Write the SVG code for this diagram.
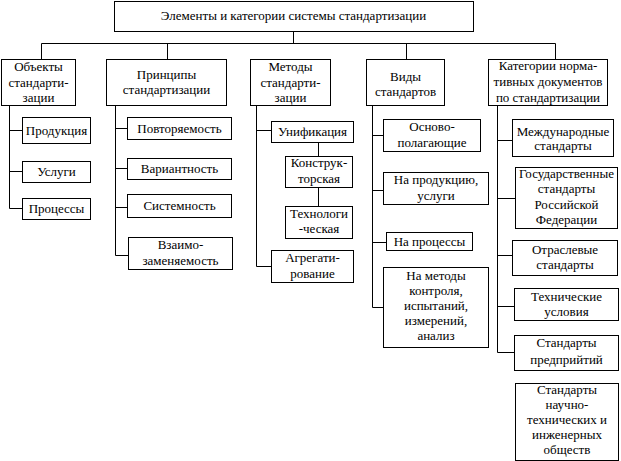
<svg xmlns="http://www.w3.org/2000/svg" width="621" height="461" viewBox="0 0 621 461">
<style>
.b{fill:#fff;stroke:#000;stroke-width:1}
.t{font-size:13px;fill:#000;text-anchor:middle}
.c{fill:none;stroke:#000;stroke-width:1}
</style>
<rect x="0" y="0" width="621" height="461" fill="#fff"/>
<g id="connectors">
<path class="c" d="M293.5 31V43.5M41.5 59V43.5H555.5V59M167.5 43.5V59M406.5 43.5V59"/>
<path class="c" d="M9.5 105V208.5H22M9.5 130.5H22M9.5 171.5H22"/>
<path class="c" d="M115.5 105V255.5H128M115.5 128.5H127M115.5 168.5H127M115.5 207.5H127"/>
<path class="c" d="M256.5 105V266.5H271M256.5 130.5H271M318.5 142V156M318.5 187V206"/>
<path class="c" d="M372.5 105V307.5H383M372.5 135.5H383M372.5 190.5H383M372.5 242.5H386"/>
<path class="c" d="M497.5 105V352.5H514M497.5 140.5H512M497.5 198.5H515M497.5 255.5H512M497.5 306.5H514"/>
</g>
<g id="root"><rect class="b" x="114.5" y="1.5" width="359" height="30"/><text class="t" font-family="Liberation Serif" x="293.5" y="20">Элементы и категории системы стандартизации</text></g>
<g id="objects"><rect class="b" x="1.5" y="59.5" width="74" height="46"/><text class="t" font-family="Liberation Serif" x="38.5" y="71">Объекты</text><text class="t" font-family="Liberation Serif" x="38.5" y="87">стандарти-</text><text class="t" font-family="Liberation Serif" x="38.5" y="102">зации</text></g>
<g id="principles"><rect class="b" x="106.5" y="59.5" width="120" height="46"/><text class="t" font-family="Liberation Serif" x="166.5" y="79">Принципы</text><text class="t" font-family="Liberation Serif" x="166.5" y="94">стандартизации</text></g>
<g id="methods"><rect class="b" x="250.5" y="59.5" width="80" height="46"/><text class="t" font-family="Liberation Serif" x="290.5" y="71">Методы</text><text class="t" font-family="Liberation Serif" x="290.5" y="87">стандарти-</text><text class="t" font-family="Liberation Serif" x="290.5" y="102">зации</text></g>
<g id="types"><rect class="b" x="366.5" y="59.5" width="78" height="46"/><text class="t" font-family="Liberation Serif" x="405.5" y="81">Виды</text><text class="t" font-family="Liberation Serif" x="405.5" y="96">стандартов</text></g>
<g id="categories"><rect class="b" x="488.5" y="59.5" width="119" height="46"/><text class="t" font-family="Liberation Serif" x="548" y="70">Категории норма-</text><text class="t" font-family="Liberation Serif" x="548" y="86">тивных документов</text><text class="t" font-family="Liberation Serif" x="548" y="102">по стандартизации</text></g>
<g id="produkciya"><rect class="b" x="22.5" y="117.5" width="68" height="26"/><text class="t" font-family="Liberation Serif" x="56.5" y="134.5">Продукция</text></g>
<g id="uslugi"><rect class="b" x="22.5" y="161.5" width="68" height="21"/><text class="t" font-family="Liberation Serif" x="56.5" y="176">Услуги</text></g>
<g id="processy"><rect class="b" x="22.5" y="198.5" width="68" height="21"/><text class="t" font-family="Liberation Serif" x="56.5" y="213">Процессы</text></g>
<g id="povtoryaemost"><rect class="b" x="127.5" y="117.5" width="104" height="22"/><text class="t" font-family="Liberation Serif" x="179.5" y="132.5">Повторяемость</text></g>
<g id="variantnost"><rect class="b" x="127.5" y="158.5" width="104" height="21"/><text class="t" font-family="Liberation Serif" x="179.5" y="173">Вариантность</text></g>
<g id="sistemnost"><rect class="b" x="127.5" y="194.5" width="104" height="23"/><text class="t" font-family="Liberation Serif" x="179.5" y="210">Системность</text></g>
<g id="vzaimo"><rect class="b" x="128.5" y="237.5" width="104" height="32"/><text class="t" font-family="Liberation Serif" x="180.5" y="249">Взаимо-</text><text class="t" font-family="Liberation Serif" x="180.5" y="265">заменяемость</text></g>
<g id="unifikaciya"><rect class="b" x="271.5" y="121.5" width="82" height="21"/><text class="t" font-family="Liberation Serif" x="312.5" y="136">Унификация</text></g>
<g id="konstruk"><rect class="b" x="285.5" y="156.5" width="67" height="31"/><text class="t" font-family="Liberation Serif" x="319" y="167">Конструк-</text><text class="t" font-family="Liberation Serif" x="319" y="183">торская</text></g>
<g id="tehnolog"><rect class="b" x="285.5" y="206.5" width="67" height="32"/><text class="t" font-family="Liberation Serif" x="319" y="218">Технологи</text><text class="t" font-family="Liberation Serif" x="319" y="233">-ческая</text></g>
<g id="agregat"><rect class="b" x="271.5" y="250.5" width="82" height="32"/><text class="t" font-family="Liberation Serif" x="312.5" y="262">Агрегати-</text><text class="t" font-family="Liberation Serif" x="312.5" y="278">рование</text></g>
<g id="osnovo"><rect class="b" x="383.5" y="119.5" width="97" height="32"/><text class="t" font-family="Liberation Serif" x="432" y="131">Осново-</text><text class="t" font-family="Liberation Serif" x="432" y="147">полагающие</text></g>
<g id="naprod"><rect class="b" x="383.5" y="172.5" width="105" height="32"/><text class="t" font-family="Liberation Serif" x="436" y="184">На продукцию,</text><text class="t" font-family="Liberation Serif" x="436" y="200">услуги</text></g>
<g id="naproc"><rect class="b" x="386.5" y="232.5" width="86" height="18"/><text class="t" font-family="Liberation Serif" x="429.5" y="245.5">На процессы</text></g>
<g id="nametody"><rect class="b" x="383.5" y="267.5" width="105" height="80"/><text class="t" font-family="Liberation Serif" x="436" y="280">На методы</text><text class="t" font-family="Liberation Serif" x="436" y="295">контроля,</text><text class="t" font-family="Liberation Serif" x="436" y="310">испытаний,</text><text class="t" font-family="Liberation Serif" x="436" y="325">измерений,</text><text class="t" font-family="Liberation Serif" x="436" y="340">анализ</text></g>
<g id="mezhd"><rect class="b" x="512.5" y="119.5" width="101" height="37"/><text class="t" font-family="Liberation Serif" x="563" y="135.5">Международные</text><text class="t" font-family="Liberation Serif" x="563" y="150">стандарты</text></g>
<g id="gos"><rect class="b" x="515.5" y="167.5" width="102" height="61"/><text class="t" font-family="Liberation Serif" x="566.5" y="178">Государственные</text><text class="t" font-family="Liberation Serif" x="566.5" y="193">стандарты</text><text class="t" font-family="Liberation Serif" x="566.5" y="209">Российской</text><text class="t" font-family="Liberation Serif" x="566.5" y="224">Федерации</text></g>
<g id="otrasl"><rect class="b" x="512.5" y="240.5" width="105" height="35"/><text class="t" font-family="Liberation Serif" x="565" y="254">Отраслевые</text><text class="t" font-family="Liberation Serif" x="565" y="269">стандарты</text></g>
<g id="teh"><rect class="b" x="514.5" y="288.5" width="104" height="32"/><text class="t" font-family="Liberation Serif" x="566.5" y="301">Технические</text><text class="t" font-family="Liberation Serif" x="566.5" y="316">условия</text></g>
<g id="predpr"><rect class="b" x="514.5" y="335.5" width="104" height="35"/><text class="t" font-family="Liberation Serif" x="566.5" y="347">Стандарты</text><text class="t" font-family="Liberation Serif" x="566.5" y="364">предприйтий</text></g>
<g id="nauchno"><rect class="b" x="515.5" y="383.5" width="103" height="77"/><text class="t" font-family="Liberation Serif" x="567" y="394">Стандарты</text><text class="t" font-family="Liberation Serif" x="567" y="409">научно-</text><text class="t" font-family="Liberation Serif" x="567" y="424">технических и</text><text class="t" font-family="Liberation Serif" x="567" y="439">инженерных</text><text class="t" font-family="Liberation Serif" x="567" y="454">обществ</text></g>
</svg>
